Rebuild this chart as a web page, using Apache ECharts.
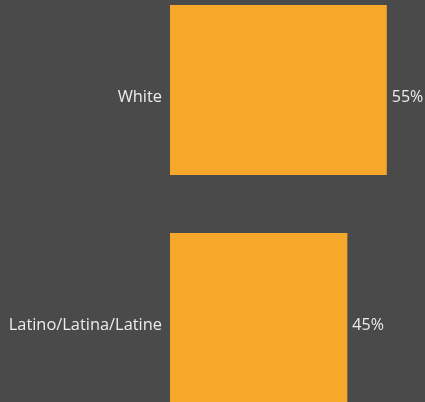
<!DOCTYPE html>
<html><head><meta charset="utf-8">
<style>html,body{margin:0;padding:0;background:#4a4a4a;}#c{width:425px;height:402px;}</style>
<script src="https://cdn.jsdelivr.net/npm/echarts@6/dist/echarts.min.js"></script>
</head><body><div id="c"></div>
<script>
const categories = ["White", "Latino/Latina/Latine"];
const values = [55, 45];
const chart = echarts.init(document.getElementById('c'));
chart.setOption({
  backgroundColor: '#4a4a4a',
  animation: false,
  grid: {left: 170, right: 0, top: -24, height: 456, containLabel: false, outerBoundsMode: 'none'},
  xAxis: {type: 'value', min: 0, max: 64.7, show: false},
  yAxis: {type: 'category', data: categories, inverse: true,
    axisLine: {show: false}, axisTick: {show: false}, splitLine: {show: false},
    axisLabel: {color: '#ececec', fontFamily: 'Open Sans', fontSize: 16.4, margin: 8, verticalAlign: 'top', lineHeight: 14}},
  series: [{type: 'bar', data: values, barWidth: 170,
    itemStyle: {color: '#f6a82b'},
    label: {show: true, position: 'right', distance: 5, color: '#ececec', fontFamily: 'Open Sans', fontSize: 16, formatter: '{c}%', offset: [0, 7]}}]
});
</script></body></html>
